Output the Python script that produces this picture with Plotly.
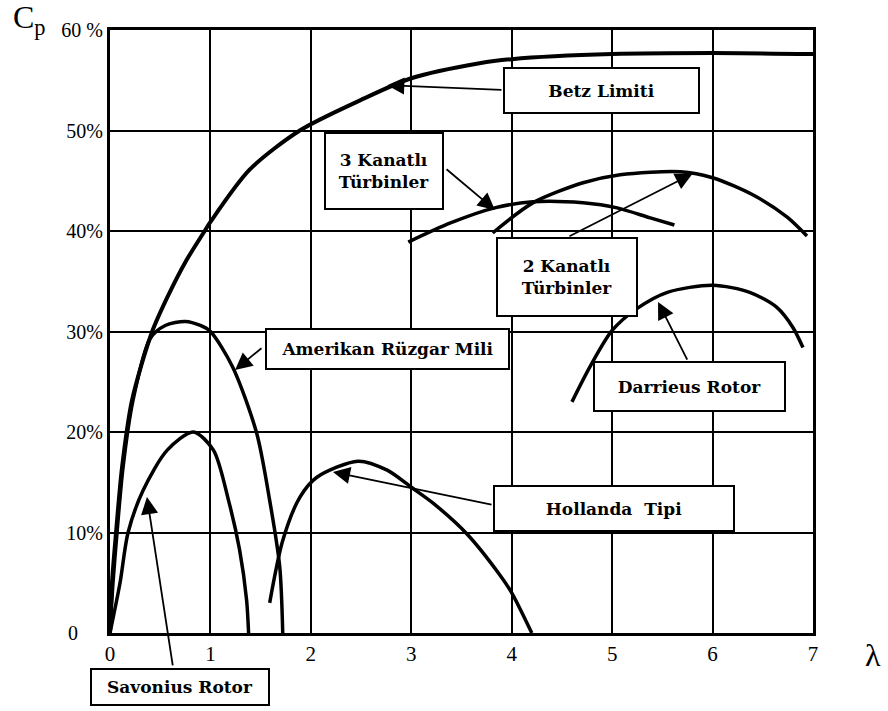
import plotly.graph_objects as go

# ---------------- data ----------------
x_ticks = [0, 1, 2, 3, 4, 5, 6, 7]
x_ticktext = ["0", "1", "2", "3", "4", "5", "6", "7"]
y_ticks = [0, 10, 20, 30, 40, 50, 60]
y_ticktext = ["0\u00a0\u00a0\u00a0\u00a0\u00a0", "10%", "20%", "30%", "40%", "50%", "60 %"]

betz_x = [0, 0.02, 0.06, 0.12, 0.22, 0.42, 0.58, 0.75, 0.93, 1.0, 1.39, 1.89, 2.49, 3.0, 3.68, 4.0, 5.0, 6.0, 7.0]
betz_y = [0, 5, 10, 16.5, 23.2, 30, 33.6, 36.9, 39.8, 40.9, 46.1, 50, 53, 55.2, 56.7, 57.1, 57.6, 57.7, 57.6]

amerikan_x = [0, 0.03, 0.07, 0.13, 0.23, 0.40, 0.55, 0.75, 0.90, 1.0, 1.22, 1.46, 1.59, 1.69, 1.72]
amerikan_y = [0, 5, 10, 16.5, 23.2, 29.3, 30.6, 31.0, 30.6, 30.0, 26.5, 19.9, 13.2, 6.6, 0]

savonius_x = [0, 0.10, 0.18, 0.33, 0.57, 0.83, 1.03, 1.18, 1.29, 1.36, 1.38]
savonius_y = [0, 5, 10, 14.2, 18.2, 20.0, 18.2, 13.2, 8.3, 3.3, 0]

hollanda_x = [1.59, 1.72, 1.89, 2.06, 2.47, 2.76, 3.0, 3.22, 3.55, 3.88, 4.0, 4.2]
hollanda_y = [3.0, 9.2, 13.5, 15.5, 17.1, 16.2, 14.5, 12.9, 9.9, 5.8, 4.0, 0]

kanat3_x = [2.97, 3.39, 3.83, 4.21, 4.71, 5.05, 5.38, 5.62]
kanat3_y = [38.9, 40.8, 42.3, 42.9, 42.8, 42.3, 41.3, 40.6]

kanat2_x = [3.81, 4.21, 4.71, 5.08, 5.68, 6.0, 6.4, 6.74, 6.94]
kanat2_y = [39.8, 42.8, 44.8, 45.6, 45.9, 45.3, 43.6, 41.4, 39.5]

darrieus_x = [4.6, 4.78, 5.0, 5.25, 5.55, 6.0, 6.37, 6.64, 6.8, 6.9]
darrieus_y = [23.0, 26.5, 30.1, 32.3, 33.9, 34.6, 33.9, 32.4, 30.4, 28.4]

# label boxes: text, centre (x, y), box width / height in px
label_text = ["Betz Limiti", "3 Kanatlı<br>Türbinler", "2 Kanatlı<br>Türbinler",
              "Darrieus Rotor", "Amerikan Rüzgar Mili", "Hollanda\u00a0\u00a0Tipi"]
label_x = [4.894, 2.728, 4.55, 5.77, 2.763, 5.018]
label_y = [53.98, 45.97, 35.42, 24.53, 28.26, 12.39]
label_w = [197, 120, 142, 193, 245, 242]
label_h = [47, 78, 80, 51, 42, 47]

# box placed below the axis (y in paper units)
savonius_text = "Savonius Rotor"
savonius_box_x = 0.697
savonius_box_y = -0.0896
savonius_box_w = 180
savonius_box_h = 38

# arrows: tail (x, y) -> head (x, y)
arrow_tail_x = [3.913, 3.336, 4.56, 5.755, 1.523, 3.814, 0.627]
arrow_tail_y = [54.03, 46.27, 39.4, 27.06, 28.46, 12.74, -3.38]
arrow_head_x = [2.76, 3.833, 5.80, 5.457, 1.245, 2.22, 0.368]
arrow_head_y = [54.5, 42.09, 45.7, 32.94, 26.17, 16.02, 13.53]

# ---------------- figure ----------------
fig = go.Figure()

curves = [
    (betz_x, betz_y, 4), (amerikan_x, amerikan_y, 3.5), (savonius_x, savonius_y, 3.5),
    (hollanda_x, hollanda_y, 3.5), (kanat3_x, kanat3_y, 3.5), (kanat2_x, kanat2_y, 3.5),
    (darrieus_x, darrieus_y, 3.5),
]
for cx, cy, w in curves:
    fig.add_trace(go.Scatter(x=cx, y=cy, mode="lines",
                             line=dict(color="black", width=w, shape="spline", smoothing=0.8),
                             cliponaxis=False, showlegend=False, hoverinfo="skip"))

serif = "Liberation Serif"
box_font = dict(family="DejaVu Serif", size=17, color="black", weight="bold")

for t, lx, ly, w, h in zip(label_text, label_x, label_y, label_w, label_h):
    fig.add_annotation(x=lx, y=ly, xref="x", yref="y", text=t, showarrow=False,
                       width=w - 4, height=h - 4, borderpad=0,
                       bordercolor="black", borderwidth=2, bgcolor="white",
                       font=box_font, align="center", valign="middle")

fig.add_annotation(x=savonius_box_x, y=savonius_box_y, xref="x", yref="paper",
                   xanchor="center", yanchor="middle",
                   text=savonius_text, showarrow=False,
                   width=savonius_box_w - 4, height=savonius_box_h - 4, borderpad=0,
                   bordercolor="black", borderwidth=2, bgcolor="white",
                   font=box_font, align="center", valign="middle")

for tx, ty, hx, hy in zip(arrow_tail_x, arrow_tail_y, arrow_head_x, arrow_head_y):
    fig.add_annotation(x=hx, y=hy, xref="x", yref="y", ax=tx, ay=ty, axref="x", ayref="y",
                       text="", showarrow=True, arrowhead=2, arrowsize=1.9, arrowwidth=1.8,
                       arrowcolor="black", font=dict(size=1))

fig.add_annotation(x=-0.141, y=1.054, xref="paper", yref="paper", text="C<sub>p</sub>",
                   showarrow=False, xanchor="left", yanchor="top",
                   font=dict(family=serif, size=32, color="black"))
fig.add_annotation(x=1.085, y=-0.0365, xref="paper", yref="paper", text="λ",
                   showarrow=False, xanchor="center", yanchor="middle",
                   font=dict(family=serif, size=32, color="black"))

fig.update_xaxes(range=[0, 7], tickvals=x_ticks, ticktext=x_ticktext,
                 showgrid=True, gridcolor="black", gridwidth=2,
                 showline=True, mirror=True, linecolor="black", linewidth=3,
                 zeroline=False, ticks="", tickfont=dict(family=serif, size=21, color="black"))
fig.update_yaxes(range=[0, 60], tickvals=y_ticks, ticktext=y_ticktext,
                 showgrid=True, gridcolor="black", gridwidth=2,
                 showline=True, mirror=True, linecolor="black", linewidth=3,
                 zeroline=False, ticks="", tickfont=dict(family=serif, size=20, color="black"))

fig.update_layout(width=888, height=711,
                  margin=dict(l=110, r=75, t=30, b=78, autoexpand=False),
                  plot_bgcolor="white", paper_bgcolor="white", showlegend=False)

fig.write_html("out.html", config={"displayModeBar": False},
               post_script="document.body.style.margin='0';document.body.style.overflow='hidden';")
